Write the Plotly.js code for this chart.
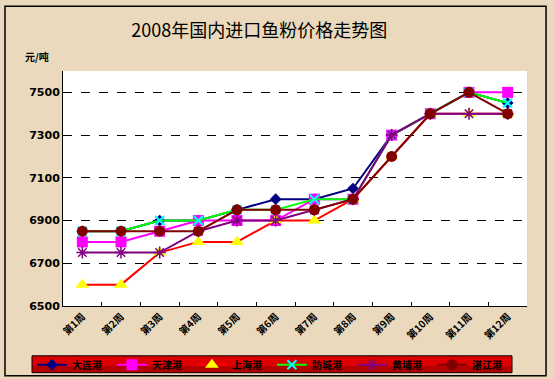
<!DOCTYPE html>
<html>
<head>
<meta charset="utf-8">
<script src="https://cdn.plot.ly/plotly-3.0.1.min.js"></script>
<style>
html,body{margin:0;padding:0;background:#fff;}
#chart{width:554px;height:379px;}
</style>
</head>
<body>
<div id="chart"></div>
<script>
const weeks = ["第1周","第2周","第3周","第4周","第5周","第6周","第7周","第8周","第9周","第10周","第11周","第12周"];
const dalian    = [6850,6850,6900,6900,6950,7000,7000,7050,7300,7400,7500,7450];
const tianjin   = [6800,6800,6850,6900,6900,6900,7000,7000,7300,7400,7500,7500];
const shanghai  = [6600,6600,6750,6800,6800,6900,6900,7000,7200,7400,7400,7400];
const fangcheng = [6850,6850,6900,6900,6950,6950,7000,7000,7300,7400,7500,7450];
const huangpu   = [6750,6750,6750,6850,6900,6900,6950,7000,7300,7400,7400,7400];
const zhanjiang = [6850,6850,6850,6850,6950,6950,6950,7000,7200,7400,7500,7400];
const names = ["大连港","天津港","上海港","防城港","黄埔港","湛江港"];

const traces = [
  {name:names[0], y:dalian, line:{color:"#000080",width:2}, marker:{symbol:"diamond",size:9,color:"#000080"}},
  {name:names[1], y:tianjin, line:{color:"#FF00FF",width:2}, marker:{symbol:"square",size:11,color:"#FF00FF"}},
  {name:names[2], y:shanghai, line:{color:"#FF0000",width:2}, marker:{symbol:"triangle-up",size:12,color:"#FFFF00"}},
  {name:names[3], y:fangcheng, line:{color:"#00FF00",width:2}, marker:{symbol:"x-thin-open",size:9,color:"#00FFFF",line:{width:2,color:"#00FFFF"}}},
  {name:names[4], y:huangpu, line:{color:"#800080",width:2}, marker:{symbol:"asterisk-open",size:10,color:"#800080",line:{width:1.5,color:"#800080"}}},
  {name:names[5], y:zhanjiang, line:{color:"#800000",width:2}, marker:{symbol:"circle",size:11,color:"#800000"}}
].map(t => Object.assign({type:"scatter", mode:"lines+markers", x:weeks}, t));

const layout = {
  width:554, height:379,
  margin:{l:63, r:27, t:71, b:73, autoexpand:false},
  paper_bgcolor:"#EAD9BC",
  plot_bgcolor:"#FFFFFF",
  showlegend:true,
  title:{text:"2008年国内进口鱼粉价格走势图", x:0.468, xanchor:"center", xref:"container", y:0.92, yanchor:"middle",
         font:{family:"Noto Sans CJK SC", size:18, color:"#000"}},
  font:{family:"Noto Sans CJK SC", color:"#000"},
  xaxis:{
    type:"category", showline:true, linecolor:"#000", linewidth:1, automargin:false,
    ticks:"inside", tickson:"boundaries", ticklen:4, tickcolor:"#000",
    tickangle:-45, showgrid:false, zeroline:false,
    tickfont:{family:"Noto Sans CJK SC", size:10, weight:"bold", color:"#000"},
    range:[-0.5, 11.5]
  },
  yaxis:{
    range:[6500, 7600], dtick:200, tick0:6500, automargin:false,
    showline:true, linecolor:"#000", linewidth:1,
    showgrid:true, gridcolor:"#000", griddash:"dash", gridwidth:1,
    zeroline:false, ticks:"",
    tickfont:{family:"DejaVu Sans", size:11, weight:"bold", color:"#000"}
  },
  legend:{
    orientation:"h", x:-0.067, xanchor:"left", y:-0.188, yanchor:"top",
    bgcolor:"rgba(0,0,0,0)", borderwidth:0,
    entrywidth:35, entrywidthmode:"pixels", itemwidth:30, tracegroupgap:0,
    font:{family:"Noto Sans CJK SC", size:10, weight:"bold", color:"#000"}
  },
  annotations:[{
    text:"元/吨", xref:"paper", yref:"paper", x:-0.055, y:1.06, xanchor:"center", yanchor:"middle",
    showarrow:false, font:{family:"Noto Sans CJK SC", size:10, weight:"bold", color:"#000"}
  }],
  shapes:[
    {type:"rect", xref:"paper", yref:"paper", x0:-0.0668, x1:0.9677, y0:-0.2839, y1:-0.2119,
     fillcolor:"#DD0000", line:{color:"#000", width:1}, layer:"below"},
    {type:"rect", xref:"paper", yref:"paper", x0:-0.0668, x1:0.9677, y0:-0.2839, y1:-0.255,
     fillcolor:"rgba(100,0,0,0.35)", line:{width:0}, layer:"below"},
    {type:"rect", xref:"paper", yref:"paper", x0:-0.125, x1:1.041, y0:-0.2966, y1:1.2754,
     line:{color:"#000", width:1.5}, layer:"above"}
  ]
};

Plotly.newPlot("chart", traces, layout, {displayModeBar:false, staticPlot:true});
</script>
</body>
</html>
